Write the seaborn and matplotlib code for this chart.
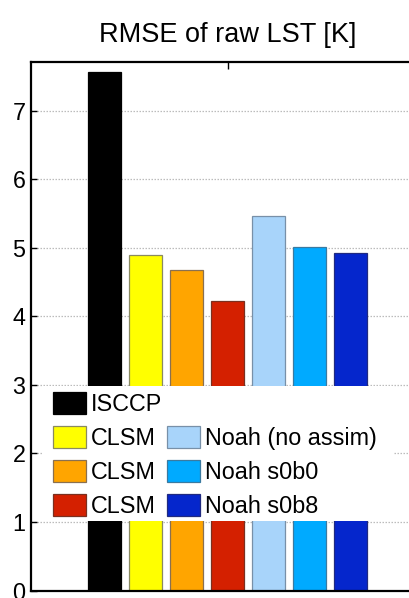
import numpy as np
import pandas as pd
import matplotlib
matplotlib.use("Agg")
import matplotlib.pyplot as plt
from matplotlib.patches import Patch, Rectangle
import seaborn as sns

# RMSE of raw land surface temperature for each product / model run
legend_labels = ["ISCCP", "CLSM", "CLSM", "CLSM",
                 "Noah (no assim)", "Noah s0b0", "Noah s0b8"]
rmse_values = [7.57, 4.90, 4.68, 4.22, 5.47, 5.01, 4.93]
bar_colors = ["#000000", "#ffff00", "#ffa500", "#d42000",
              "#a8d4fa", "#00aaff", "#0526cc"]
edge_colors = ["#000000", "#8a8a60", "#8a7050", "#7a3020",
               "#7890a8", "#3a7aa0", "#202a80"]
y_ticks = [0, 1, 2, 3, 4, 5, 6, 7]
title_text = "RMSE of raw LST [K]"

sns.set_style("white")
plt.rcParams["font.family"] = ["Liberation Sans", "DejaVu Sans"]
plt.rcParams["text.color"] = "black"
plt.rcParams["axes.labelcolor"] = "black"
plt.rcParams["xtick.color"] = "black"
plt.rcParams["ytick.color"] = "black"

W, H = 409, 598
fig = plt.figure(figsize=(W / 100, H / 100), dpi=100)
# axes runs slightly past the right edge of the canvas
ax_left, ax_right, ax_top, ax_bottom = 31, 424, 62, 590.5
ax = fig.add_axes([ax_left / W, 1 - ax_bottom / H,
                   (ax_right - ax_left) / W, (ax_bottom - ax_top) / H])

df = pd.DataFrame({
    "run": [str(i) for i in range(len(rmse_values))],
    "rmse": rmse_values,
})
sns.barplot(data=df, x="run", y="rmse", hue="run", palette=bar_colors,
            saturation=1, width=0.8, dodge=False, legend=False, ax=ax,
            linewidth=0.9, edgecolor="#555555")
for bar, ec in zip(ax.patches, edge_colors):
    bar.set_edgecolor(ec)

ax.set_xlim(3 - 4.79, 3 + 4.79)
ax.set_ylim(0, 7.71)
ax.set_xlabel("")
ax.set_ylabel("")
ax.set_xticks([3])
ax.set_xticklabels([])
ax.set_yticks(y_ticks)
ax.set_yticklabels([str(t) for t in y_ticks], fontsize=16.8, color="black")
ax.tick_params(axis="y", direction="in", length=4, width=1, left=True,
               right=True, pad=4, colors="black")
ax.tick_params(axis="x", direction="in", length=5, width=1, bottom=True,
               top=True, colors="black")

ax.set_axisbelow(True)
ax.yaxis.grid(True, linestyle=(0, (1.2, 1.2)), color="#bcbcbc",
              linewidth=0.9)
ax.xaxis.grid(False)
for side in ["left", "top", "bottom", "right"]:
    ax.spines[side].set_visible(True)
    ax.spines[side].set_color("black")
    ax.spines[side].set_linewidth(1.6)

ax.set_title(title_text, fontsize=19.5, pad=14.4, color="black")

# white panel behind the legend
box_l, box_r, box_t, box_b = 43, 393, 386, 521
ax.add_patch(Rectangle((box_l / W, 1 - box_b / H), (box_r - box_l) / W,
                       (box_b - box_t) / H, transform=fig.transFigure,
                       facecolor="white", edgecolor="none", zorder=4,
                       clip_on=False))

handles = [Patch(facecolor=c, edgecolor=e, linewidth=0.9)
           for c, e in zip(bar_colors, edge_colors)]
blank = Patch(facecolor="none", edgecolor="none")
leg_handles = handles[:4] + [blank] + handles[4:]
leg_labels = legend_labels[:4] + [""] + legend_labels[4:]
leg = ax.legend(leg_handles, leg_labels, ncol=2, loc="upper left",
                bbox_to_anchor=(53 / W, 1 - 391.5 / H),
                bbox_transform=fig.transFigure, frameon=False,
                borderpad=0, borderaxespad=0, fontsize=16.8,
                handlelength=1.42, handleheight=1.12, handletextpad=0.2,
                columnspacing=0.2, labelspacing=0.42)
for t in leg.get_texts():
    t.set_color("black")
leg.set_zorder(5)

fig.savefig("out.png", dpi=100)
